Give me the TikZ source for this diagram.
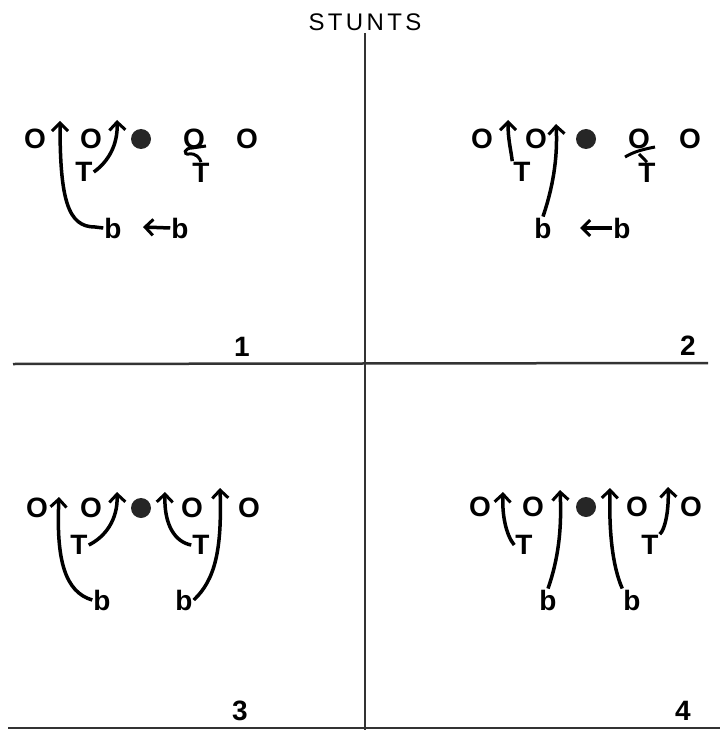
\documentclass[tikz,border=0pt]{standalone}
\usepackage{fontspec}
\setmainfont{Liberation Sans}
\usepackage{tikz}
\usetikzlibrary{arrows.meta}

\begin{document}
\begin{tikzpicture}[
  x=1pt, y=-1pt,
  man/.style={inner sep=0pt, font=\fontsize{28}{28}\selectfont\bfseries},
  ball/.style={circle, fill=black!85, minimum size=20pt, inner sep=0pt},
  rusher/.style={inner sep=1pt, font=\fontsize{28}{28}\selectfont\bfseries},
  figno/.style={inner sep=0pt, font=\fontsize{28}{28}\selectfont\bfseries},
  border/.style={line width=2.5pt, black!80},
  move/.style={line width=3.5pt, -{Straight Barb[length=8pt, width=16pt, line width=3pt]}},
  tick/.style={line width=3pt},
]
  \useasboundingbox (0,0) rectangle (720,730);

  % Title and frame
  \node (title) [inner sep=0pt, font=\fontsize{24}{24}\selectfont\addfontfeature{LetterSpace=14}] at (365,22) {STUNTS};
  \draw [border] (365,33) -- (365,730);
  \draw [border] (13,364) -- (708,363);
  \draw [border] (8,728) -- (720,728);

  % Figure numbers
  \node (no1) [figno] at (242,347) {1};
  \node (no2) [figno] at (688,346) {2};
  \node (no3) [figno] at (240,711) {3};
  \node (no4) [figno] at (683,711) {4};

  % Offensive lines
  \foreach \q/\y/\a/\b/\c/\d/\e in {1/139/35/91/141/194/247, 2/139/482/536/586/639/690,
                                     3/508/37/91/141/192/249, 4/507/480/533/586/637/691} {
    \node (q\q o1) [man] at (\a,\y) {O};
    \node (q\q o2) [man] at (\b,\y) {O};
    \node (q\q c) [ball] at (\c,\y) {};
    \node (q\q o3) [man] at (\d,\y) {O};
    \node (q\q o4) [man] at (\e,\y) {O};
  }

  % Stunt 1
  \node (q1t1) [rusher] at (84,172) {T};
  \node (q1t2) [rusher] at (201,173) {T};
  \node (q1b1) [rusher] at (113,228) {b};
  \node (q1b2) [rusher] at (180,228) {b};
  \coordinate (q1a1) at (60,121);
  \coordinate (q1a2) at (117,120);
  \coordinate (q1a3) at (143,227);
  \draw [move] (q1b1.west) -- (95,227) .. controls (68,227) and (60,200) .. (q1a1);
  \draw [move] (q1t1.east) .. controls (108,162) and (118,145) .. (q1a2);
  \draw [move] (q1b2.west) -- (q1a3);
  \draw [tick] (q1t2.north) .. controls (200,158) and (196,153) .. (189,154)
    .. controls (183,155) and (184,148) .. (192,148) -- (206,146);

  % Stunt 2
  \node (q2t1) [rusher] at (522,172) {T};
  \node (q2t2) [rusher] at (647,173) {T};
  \node (q2b1) [rusher] at (543,228) {b};
  \node (q2b2) [rusher] at (622,228) {b};
  \coordinate (q2a1) at (508,120);
  \coordinate (q2a2) at (556,124);
  \coordinate (q2a3) at (580,228);
  \draw [move] (q2t1.north west) .. controls (511,150) and (508,140) .. (q2a1);
  \draw [move] (q2b1.north) .. controls (552,190) and (558,160) .. (q2a2);
  \draw [move] (q2b2.west) -- (q2a3);
  \draw [tick] (625,157) .. controls (635,151) and (645,149) .. (655,147);
  \draw [tick] (q2t2.north) -- (639,154);

  % Stunt 3
  \node (q3t1) [rusher] at (79,545) {T};
  \node (q3t2) [rusher] at (201,545) {T};
  \node (q3b1) [rusher] at (102,600) {b};
  \node (q3b2) [rusher] at (184,600) {b};
  \coordinate (q3a1) at (59,497);
  \coordinate (q3a2) at (117,492);
  \coordinate (q3a3) at (165,492);
  \coordinate (q3a4) at (220,488);
  \draw [move] (q3b1.west) .. controls (65,592) and (56,560) .. (q3a1);
  \draw [move] (q3t1.east) .. controls (105,537) and (118,520) .. (q3a2);
  \draw [move] (q3t2.west) .. controls (175,542) and (164,525) .. (q3a3);
  \draw [move] (q3b2.east) .. controls (215,580) and (222,550) .. (q3a4);

  % Stunt 4
  \node (q4t1) [rusher] at (524,545) {T};
  \node (q4t2) [rusher] at (650,545) {T};
  \node (q4b1) [rusher] at (548,600) {b};
  \node (q4b2) [rusher] at (632,600) {b};
  \coordinate (q4a1) at (503,492);
  \coordinate (q4a2) at (560,490);
  \coordinate (q4a3) at (610,488);
  \coordinate (q4a4) at (668,487);
  \draw [move] (q4t1.west) .. controls (506,535) and (502,515) .. (q4a1);
  \draw [move] (q4b1.north) .. controls (558,560) and (562,530) .. (q4a2);
  \draw [move] (q4b2.north west) .. controls (612,565) and (609,530) .. (q4a3);
  \draw [move] (q4t2.north east) .. controls (665,530) and (669,510) .. (q4a4);

\end{tikzpicture}
\end{document}
